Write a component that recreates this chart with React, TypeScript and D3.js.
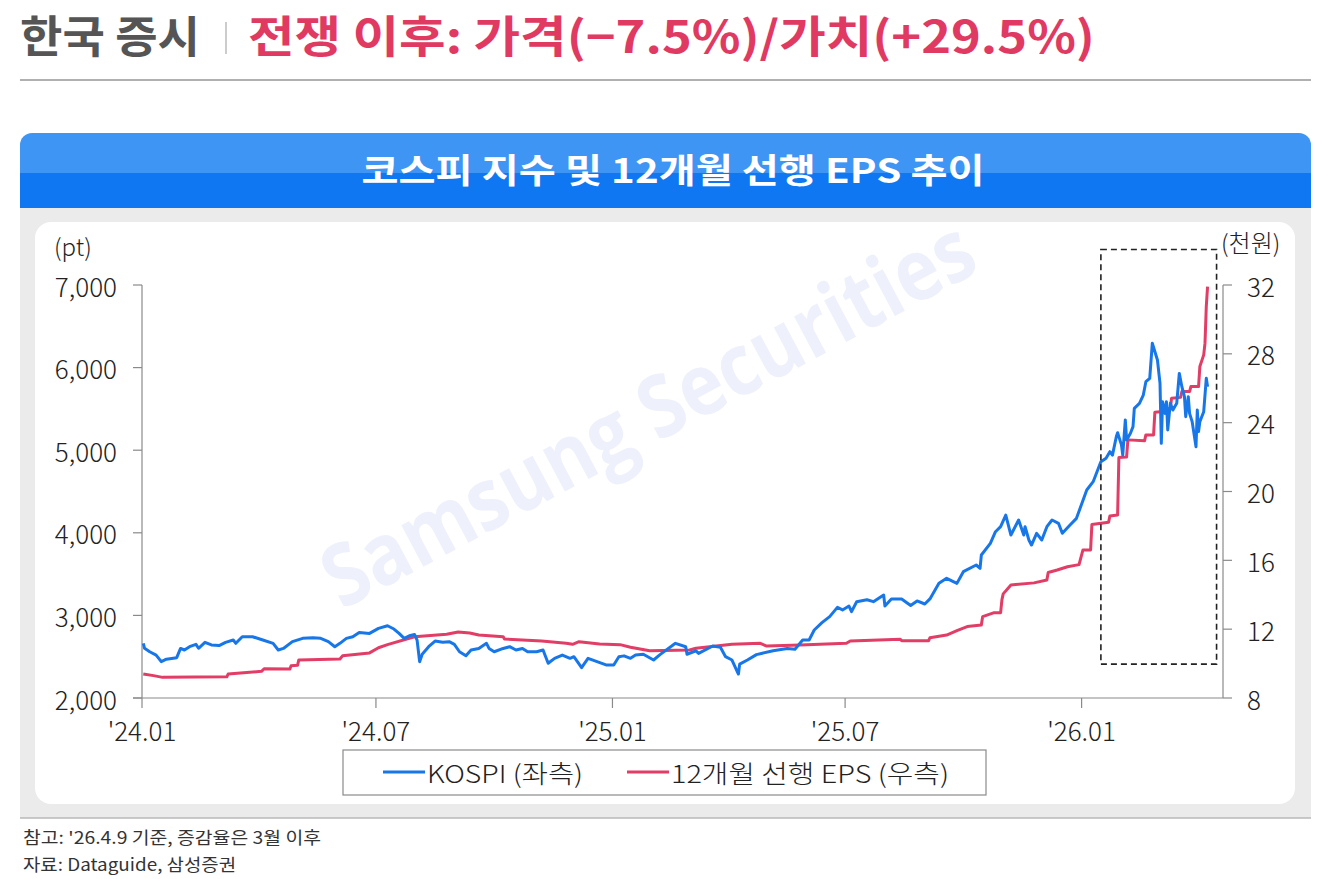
import React from 'react';
import * as d3 from 'd3';

// KOSPI (left axis, pt)
const kospi: [string, number][] = [
  ['2024-01-02', 2662], ['2024-01-03', 2602], ['2024-01-07', 2560], ['2024-01-12', 2520],
  ['2024-01-16', 2440], ['2024-01-20', 2470], ['2024-01-28', 2488], ['2024-01-31', 2600],
  ['2024-02-03', 2581], ['2024-02-07', 2621], ['2024-02-12', 2650], ['2024-02-14', 2602],
  ['2024-02-19', 2674], ['2024-02-24', 2642], ['2024-03-01', 2635], ['2024-03-06', 2674],
  ['2024-03-12', 2702], ['2024-03-14', 2662], ['2024-03-19', 2742], ['2024-03-27', 2742],
  ['2024-04-04', 2702], ['2024-04-12', 2662], ['2024-04-16', 2581], ['2024-04-20', 2600],
  ['2024-04-27', 2682], ['2024-05-05', 2722], ['2024-05-13', 2730], ['2024-05-19', 2722],
  ['2024-05-25', 2682], ['2024-05-30', 2621], ['2024-06-03', 2662], ['2024-06-08', 2722],
  ['2024-06-13', 2742], ['2024-06-18', 2794], ['2024-06-26', 2782], ['2024-07-03', 2843],
  ['2024-07-10', 2875], ['2024-07-15', 2835], ['2024-07-19', 2783], ['2024-07-23', 2722],
  ['2024-07-27', 2754], ['2024-07-31', 2770], ['2024-08-02', 2702], ['2024-08-04', 2440],
  ['2024-08-06', 2530], ['2024-08-11', 2621], ['2024-08-16', 2690], ['2024-08-22', 2674],
  ['2024-08-27', 2682], ['2024-08-31', 2650], ['2024-09-04', 2560], ['2024-09-09', 2512],
  ['2024-09-13', 2581], ['2024-09-19', 2600], ['2024-09-25', 2662], ['2024-09-27', 2600],
  ['2024-10-01', 2560], ['2024-10-08', 2600], ['2024-10-13', 2621], ['2024-10-18', 2581],
  ['2024-10-23', 2600], ['2024-10-27', 2560], ['2024-11-03', 2560], ['2024-11-08', 2581],
  ['2024-11-12', 2420], ['2024-11-17', 2480], ['2024-11-23', 2520], ['2024-11-29', 2480],
  ['2024-12-02', 2500], ['2024-12-08', 2367], ['2024-12-13', 2480], ['2024-12-20', 2440],
  ['2024-12-27', 2400], ['2025-01-02', 2400], ['2025-01-06', 2500], ['2025-01-10', 2510],
  ['2025-01-15', 2480], ['2025-01-19', 2520], ['2025-01-25', 2530], ['2025-02-02', 2460],
  ['2025-02-07', 2525], ['2025-02-19', 2662], ['2025-02-27', 2620], ['2025-02-28', 2530],
  ['2025-03-07', 2570], ['2025-03-09', 2540], ['2025-03-20', 2630], ['2025-03-26', 2615],
  ['2025-03-30', 2500], ['2025-04-04', 2460], ['2025-04-09', 2290], ['2025-04-10', 2410],
  ['2025-04-16', 2460], ['2025-04-23', 2525], ['2025-05-06', 2573], ['2025-05-17', 2600],
  ['2025-05-23', 2590], ['2025-05-29', 2702], ['2025-06-03', 2702], ['2025-06-07', 2823],
  ['2025-06-13', 2912], ['2025-06-19', 2985], ['2025-06-25', 3097], ['2025-06-29', 3066],
  ['2025-07-04', 3113], ['2025-07-06', 3046], ['2025-07-10', 3166], ['2025-07-18', 3190],
  ['2025-07-23', 3166], ['2025-07-31', 3247], ['2025-08-01', 3113], ['2025-08-06', 3198],
  ['2025-08-14', 3198], ['2025-08-21', 3120], ['2025-08-26', 3175], ['2025-09-01', 3138],
  ['2025-09-05', 3200], ['2025-09-12', 3388], ['2025-09-18', 3449], ['2025-09-26', 3388],
  ['2025-10-01', 3529], ['2025-10-11', 3610], ['2025-10-14', 3570], ['2025-10-15', 3731],
  ['2025-10-22', 3873], ['2025-10-26', 4013], ['2025-10-30', 4074], ['2025-11-03', 4215],
  ['2025-11-07', 3973], ['2025-11-13', 4155], ['2025-11-17', 3973], ['2025-11-18', 4074],
  ['2025-11-21', 3913], ['2025-11-23', 3852], ['2025-11-27', 3994], ['2025-12-01', 3913],
  ['2025-12-05', 4074], ['2025-12-09', 4155], ['2025-12-14', 4115], ['2025-12-17', 3994],
  ['2025-12-23', 4094], ['2025-12-28', 4175], ['2026-01-05', 4518], ['2026-01-10', 4619],
  ['2026-01-15', 4820], ['2026-01-16', 4860], ['2026-01-20', 4902], ['2026-01-23', 4982],
  ['2026-01-25', 4940], ['2026-01-28', 5163], ['2026-01-29', 5211], ['2026-02-01', 5064],
  ['2026-02-02', 4942], ['2026-02-04', 5366], ['2026-02-05', 5124], ['2026-02-08', 5205],
  ['2026-02-10', 5285], ['2026-02-11', 5507], ['2026-02-15', 5567], ['2026-02-18', 5668],
  ['2026-02-20', 5829], ['2026-02-23', 5870], ['2026-02-25', 6294], ['2026-03-01', 6092],
  ['2026-03-03', 5809], ['2026-03-04', 5083], ['2026-03-05', 5587], ['2026-03-07', 5446],
  ['2026-03-08', 5587], ['2026-03-09', 5245], ['2026-03-11', 5567], ['2026-03-13', 5486],
  ['2026-03-16', 5567], ['2026-03-18', 5930], ['2026-03-20', 5769], ['2026-03-22', 5648],
  ['2026-03-23', 5406], ['2026-03-25', 5648], ['2026-03-26', 5446], ['2026-03-28', 5346],
  ['2026-03-31', 5043], ['2026-04-01', 5486], ['2026-04-02', 5225], ['2026-04-03', 5346],
  ['2026-04-06', 5466], ['2026-04-08', 5870], ['2026-04-09', 5769],
];

// 12-month forward EPS (right axis, thousand won)
const eps: [string, number][] = [
  ['2024-01-02', 9.40], ['2024-01-10', 9.30], ['2024-01-17', 9.20], ['2024-03-07', 9.23],
  ['2024-03-08', 9.39], ['2024-04-03', 9.55], ['2024-04-05', 9.70], ['2024-04-25', 9.68],
  ['2024-04-26', 9.87], ['2024-05-01', 9.90], ['2024-05-02', 10.21], ['2024-06-03', 10.27],
  ['2024-06-05', 10.45], ['2024-06-26', 10.62], ['2024-07-03', 10.92], ['2024-07-10', 11.10],
  ['2024-07-31', 11.56], ['2024-08-25', 11.70], ['2024-09-03', 11.84], ['2024-09-12', 11.78],
  ['2024-09-19', 11.66], ['2024-10-08', 11.56], ['2024-10-09', 11.43], ['2024-11-07', 11.31],
  ['2024-11-26', 11.18], ['2024-12-01', 11.12], ['2024-12-06', 11.27], ['2024-12-22', 11.14],
  ['2025-01-07', 11.10], ['2025-01-15', 10.95], ['2025-01-30', 10.75], ['2025-03-02', 10.79],
  ['2025-03-07', 10.89], ['2025-04-04', 11.12], ['2025-04-26', 11.18], ['2025-05-01', 11.02],
  ['2025-05-27', 11.08], ['2025-07-02', 11.18], ['2025-07-05', 11.31], ['2025-08-13', 11.41],
  ['2025-08-14', 11.33], ['2025-09-04', 11.33], ['2025-09-05', 11.50], ['2025-09-18', 11.66],
  ['2025-09-26', 11.91], ['2025-10-04', 12.15], ['2025-10-15', 12.24], ['2025-10-16', 12.73],
  ['2025-10-25', 12.96], ['2025-10-30', 12.96], ['2025-10-31', 13.70], ['2025-11-01', 14.05],
  ['2025-11-07', 14.57], ['2025-11-25', 14.69], ['2025-12-05', 14.86], ['2025-12-06', 15.29],
  ['2025-12-13', 15.44], ['2025-12-21', 15.63], ['2025-12-30', 15.75], ['2026-01-02', 16.60],
  ['2026-01-08', 16.60], ['2026-01-09', 18.08], ['2026-01-22', 18.21], ['2026-01-23', 18.58],
  ['2026-01-29', 18.63], ['2026-01-30', 21.98], ['2026-02-05', 22.00], ['2026-02-06', 23.00],
  ['2026-02-19', 22.95], ['2026-02-20', 23.29], ['2026-02-26', 23.29], ['2026-02-27', 24.61],
  ['2026-03-05', 24.65], ['2026-03-06', 24.75], ['2026-03-11', 24.84], ['2026-03-12', 25.42],
  ['2026-03-19', 25.47], ['2026-03-20', 25.81], ['2026-03-26', 25.81], ['2026-03-27', 26.10],
  ['2026-04-02', 26.10], ['2026-04-03', 27.26], ['2026-04-06', 27.94], ['2026-04-07', 28.62],
  ['2026-04-08', 30.75], ['2026-04-09', 31.91],
];

const xTicks = ['2024-01-01', '2024-07-01', '2025-01-01', '2025-07-01', '2026-01-01'];
const leftTicks = [2000, 3000, 4000, 5000, 6000, 7000];
const rightTicks = [8, 12, 16, 20, 24, 28, 32];
const highlightDates = ['2026-01-16', '2026-04-16'];
const highlightRange = [2410, 7430];

const titleLeft = '한국 증시';
const titleRight = '전쟁 이후: 가격(−7.5%)/가치(+29.5%)';
const chartTitle = '코스피 지수 및 12개월 선행 EPS 추이';
const seriesNames = ['KOSPI (좌측)', '12개월 선행 EPS (우측)'];
const notes = ["참고: '26.4.9 기준, 증감율은 3월 이후", '자료: Dataguide, 삼성증권'];

const BLUE = '#1877e8';
const RED = '#e23d66';
const FONT = "'Noto Sans CJK KR', 'Noto Sans', sans-serif";

const parse = d3.timeParse('%Y-%m-%d');

export default function App() {
  const W = 1327;
  const H = 879;
  const left = 142, right = 1223, top = 285, bottom = 698;

  const x = d3.scaleTime()
    .domain([parse('2024-01-01')!, parse('2026-04-21')!])
    .range([left, right]);
  const yL = d3.scaleLinear().domain([2000, 7000]).range([bottom, top]);
  const yR = d3.scaleLinear().domain([8, 32]).range([bottom, top]);

  const lineL = d3.line<[string, number]>()
    .x(d => x(parse(d[0])!))
    .y(d => yL(d[1]))
    .curve(d3.curveLinear);
  const lineR = d3.line<[string, number]>()
    .x(d => x(parse(d[0])!))
    .y(d => yR(d[1]))
    .curve(d3.curveLinear);

  const fmtL = d3.format(',');
  const fmtX = d3.timeFormat("'%y.%m");

  const hx0 = x(parse(highlightDates[0])!);
  const hx1 = x(parse(highlightDates[1])!);
  const hy0 = yL(highlightRange[1]);
  const hy1 = yL(highlightRange[0]);

  return (
    <svg width={W} height={H} viewBox={`0 0 ${W} ${H}`}
      style={{ position: 'absolute', left: 0, top: 0, display: 'block', fontFamily: FONT }}>
      <rect x={0} y={0} width={W} height={H} fill="#ffffff" />

      {/* Page title */}
      <text x={20} y={53} fontSize={44} fontWeight={700} fill="#555555"
        textLength={180} lengthAdjust="spacingAndGlyphs">{titleLeft}</text>
      <line x1={226} x2={226} y1={22} y2={54} stroke="#cccccc" strokeWidth={2} />
      <text x={248} y={53} fontSize={44} fontWeight={700} fill="#e03a62"
        textLength={847} lengthAdjust="spacingAndGlyphs">{titleRight}</text>
      <line x1={20} x2={1311} y1={80} y2={80} stroke="#b0b0b0" strokeWidth={2} />

      {/* Header bar */}
      <rect x={20} y={133} width={1291} height={80} rx={12} fill="#3f95f3" />
      <rect x={20} y={173} width={1291} height={35} fill="#0e77f1" />
      <text x={673} y={183} fontSize={34} fontWeight={700} fill="#ffffff" textAnchor="middle"
        textLength={623} lengthAdjust="spacingAndGlyphs">{chartTitle}</text>

      {/* Gray panel + white card */}
      <rect x={20} y={208} width={1291} height={610} fill="#ebebeb" />
      <line x1={20} x2={1311} y1={818} y2={818} stroke="#b8b8b8" strokeWidth={1.5} />
      <rect x={35} y={222} width={1260} height={582} rx={16} fill="#ffffff" />

      {/* Watermark */}
      <text x={662} y={440} fontSize={86} fontWeight={700} fill="#eef1fb" textAnchor="middle"
        fontFamily="'Open Sans', 'Noto Sans', sans-serif"
        textLength={725} lengthAdjust="spacingAndGlyphs"
        transform="rotate(-28 662 440)">Samsung Securities</text>

      {/* Axes */}
      <g stroke="#8a8a8a" strokeWidth={1.2}>
        <line x1={left} x2={left} y1={top} y2={bottom} />
        <line x1={right} x2={right} y1={top} y2={bottom} />
        <line x1={left - 9} x2={right} y1={bottom} y2={bottom} />
        {leftTicks.map(t => (
          <line key={'lt' + t} x1={left - 9} x2={left} y1={yL(t)} y2={yL(t)} />
        ))}
        {rightTicks.map(t => (
          <line key={'rt' + t} x1={right} x2={right + 9} y1={yR(t)} y2={yR(t)} />
        ))}
        {xTicks.map(t => (
          <line key={'xt' + t} x1={x(parse(t)!)} x2={x(parse(t)!)} y1={bottom} y2={bottom + 10} />
        ))}
      </g>
      <g fontSize={26} fill="#222222" fontWeight={300}>
        {leftTicks.map(t => (
          <text key={'ll' + t} x={117} y={yL(t)} textAnchor="end" dominantBaseline="central">{fmtL(t)}</text>
        ))}
        {rightTicks.map(t => (
          <text key={'rl' + t} x={1247} y={yR(t)} textAnchor="start" dominantBaseline="central">{t}</text>
        ))}
        {xTicks.map(t => (
          <text key={'xl' + t} x={x(parse(t)!)} y={741} textAnchor="middle">{fmtX(parse(t)!)}</text>
        ))}
        <text x={54} y={245} fontSize={24} dominantBaseline="central">(pt)</text>
        <text x={1221} y={241} fontSize={24} dominantBaseline="central">(천원)</text>
      </g>

      {/* Series */}
      <path d={lineR(eps) || ''} fill="none" stroke={RED} strokeWidth={3} strokeLinejoin="round" />
      <path d={lineL(kospi) || ''} fill="none" stroke={BLUE} strokeWidth={3} strokeLinejoin="round" />

      {/* Highlight box */}
      <rect x={hx0} y={hy0} width={hx1 - hx0} height={hy1 - hy0} fill="none"
        stroke="#222222" strokeWidth={1.6} strokeDasharray="6 4" />

      {/* Legend */}
      <rect x={343} y={750} width={643} height={45} fill="#ffffff" stroke="#8a8a8a" strokeWidth={1.2} />
      <line x1={383} x2={425} y1={772} y2={772} stroke={BLUE} strokeWidth={3} />
      <text x={427} y={772} fontSize={25} fill="#222222" fontWeight={300} dominantBaseline="central"
        textLength={156} lengthAdjust="spacingAndGlyphs">{seriesNames[0]}</text>
      <line x1={627} x2={669} y1={772} y2={772} stroke={RED} strokeWidth={3} />
      <text x={671} y={772} fontSize={25} fill="#222222" fontWeight={300} dominantBaseline="central"
        textLength={278} lengthAdjust="spacingAndGlyphs">{seriesNames[1]}</text>

      {/* Footer notes */}
      <text x={23} y={844} fontSize={17} fill="#333333"
        textLength={298} lengthAdjust="spacingAndGlyphs">{notes[0]}</text>
      <text x={23} y={871} fontSize={17} fill="#333333"
        textLength={213} lengthAdjust="spacingAndGlyphs">{notes[1]}</text>
    </svg>
  );
}
